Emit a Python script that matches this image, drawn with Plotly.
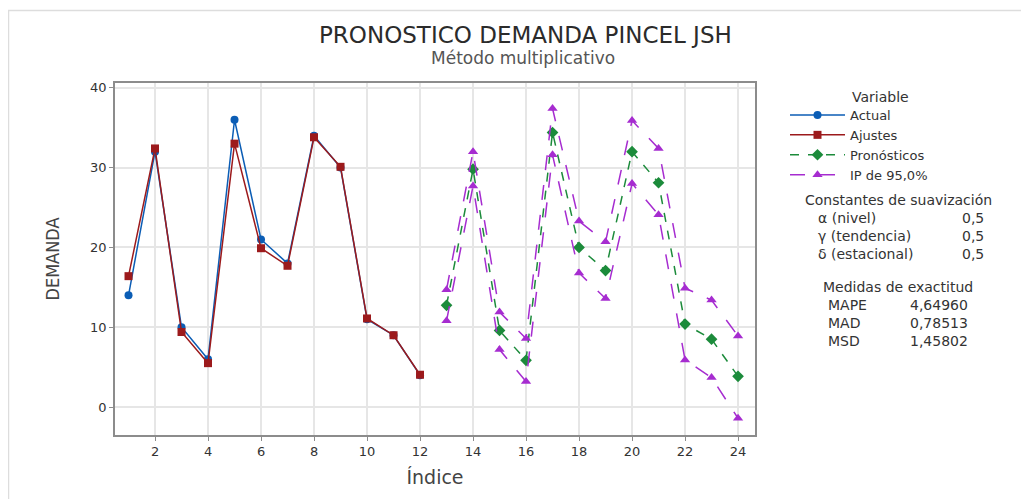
import plotly.graph_objects as go

# ---- data ----
idx_hist = list(range(1, 13))
actual = [14.0, 32.0, 10.0, 6.0, 36.0, 21.0, 18.0, 34.0, 30.0, 11.0, 9.0, 4.0]
ajustes = [16.4, 32.4, 9.4, 5.5, 33.0, 19.9, 17.7, 33.8, 30.1, 11.1, 9.0, 4.05]

idx_fc = list(range(13, 25))
pronosticos = [12.75, 29.8, 9.6, 5.85, 34.4, 20.0, 17.1, 32.0, 28.1, 10.4, 8.5, 3.85]
ip_sup = [14.7, 32.0, 11.9, 8.6, 37.4, 23.3, 20.7, 35.9, 32.4, 14.9, 13.4, 8.9]
ip_inf = [10.8, 27.7, 7.2, 3.2, 31.6, 16.8, 13.6, 28.0, 24.1, 5.9, 3.7, -1.4]

x_ticks = list(range(2, 25, 2))
y_ticks = [0, 10, 20, 30, 40]

constantes = [("α (nivel)", "0,5"), ("γ (tendencia)", "0,5"), ("δ (estacional)", "0,5")]
medidas = [("MAPE", "4,64960"), ("MAD", "0,78513"), ("MSD", "1,45802")]

FONT = "DejaVu Sans"
TXT = "#333333"
C_ACT = "#0B5DB5"
C_FIT = "#9C1A1C"
C_FC = "#1C8B3B"
C_IP = "#A62CD0"

fig = go.Figure()
fig.add_trace(go.Scatter(x=idx_hist, y=actual, name="Actual", mode="lines+markers",
                         line=dict(color=C_ACT, width=1.5),
                         marker=dict(symbol="circle", size=8, color=C_ACT)))
fig.add_trace(go.Scatter(x=idx_hist, y=ajustes, name="Ajustes", mode="lines+markers",
                         line=dict(color=C_FIT, width=1.5),
                         marker=dict(symbol="square", size=8, color=C_FIT)))
fig.add_trace(go.Scatter(x=idx_fc, y=pronosticos, name="Pronósticos", mode="lines+markers",
                         line=dict(color=C_FC, width=1.5, dash="dash"),
                         marker=dict(symbol="diamond", size=9, color=C_FC)))
fig.add_trace(go.Scatter(x=idx_fc, y=ip_sup, name="IP de 95,0%", mode="lines+markers",
                         line=dict(color=C_IP, width=1.5, dash="longdash"),
                         marker=dict(symbol="triangle-up", size=9, color=C_IP),
                         legendgroup="ip"))
fig.add_trace(go.Scatter(x=idx_fc, y=ip_inf, name="IP de 95,0%", mode="lines+markers",
                         line=dict(color=C_IP, width=1.5, dash="longdash"),
                         marker=dict(symbol="triangle-up", size=9, color=C_IP),
                         legendgroup="ip", showlegend=False))

axis_common = dict(showgrid=True, gridcolor="#E6E6E6", gridwidth=1.5,
                   showline=True, linecolor="#8C8C8C", linewidth=1.5, mirror=True,
                   ticks="outside", ticklen=4, tickcolor="#8C8C8C",
                   tickfont=dict(family=FONT, size=13, color=TXT), zeroline=False)

fig.update_xaxes(range=[0.49, 24.64], tickvals=x_ticks,
                 title=dict(text="Índice", font=dict(family=FONT, size=19, color="#444444"), standoff=12),
                 **axis_common)
fig.update_yaxes(range=[-3.5, 40.6], tickvals=y_ticks,
                 title=dict(text="DEMANDA", font=dict(family="DejaVu Sans Condensed, Liberation Sans Narrow, sans-serif",
                                                      size=18, color="#444444"), standoff=26),
                 **axis_common)

# page-pixel positions (the page body adds an 8px offset)
OFF = 8
annotations = [
    dict(text="PRONOSTICO DEMANDA PINCEL JSH", x=525, y=35, font=dict(family=FONT, size=23, color="#2b2b2b")),
    dict(text="Método multiplicativo", x=523, y=58, font=dict(family=FONT, size=17, color="#555555")),
    dict(text="Variable", x=850, y=97, xanchor="left", font=dict(family=FONT, size=14, color=TXT)),
    dict(text="Constantes de suavización", x=898, y=200, font=dict(family=FONT, size=14, color=TXT)),
    dict(text="Medidas de exactitud", x=898, y=287, font=dict(family=FONT, size=14, color=TXT)),
]
for i, (lab, val) in enumerate(constantes):
    yy = 218 + i * 18
    annotations.append(dict(text=lab, x=816, y=yy, xanchor="left", font=dict(family=FONT, size=14, color=TXT)))
    annotations.append(dict(text=val, x=960, y=yy, xanchor="left", font=dict(family=FONT, size=14, color=TXT)))
for i, (lab, val) in enumerate(medidas):
    yy = 305 + i * 18
    annotations.append(dict(text=lab, x=826, y=yy, xanchor="left", font=dict(family=FONT, size=14, color=TXT)))
    annotations.append(dict(text=val, x=970, y=yy, xanchor="right", font=dict(family=FONT, size=14, color=TXT)))

W, H = 1021, 491
L, T = 115 - OFF, 83 - OFF
R = W - (755 - OFF)
B = H - (435 - OFF)
pw, ph = W - L - R, H - T - B


def px(xp):
    return (xp - OFF - L) / pw


def py(yp):
    return 1 - (yp - OFF - T) / ph


anns = []
for a in annotations:
    a = dict(a)
    a["xref"] = "paper"; a["yref"] = "paper"
    a["x"] = px(a["x"])
    a["y"] = py(a["y"])
    a.setdefault("xanchor", "center")
    a["yanchor"] = "middle"
    a["showarrow"] = False
    anns.append(a)

fig.update_layout(
    width=W, height=H,
    margin=dict(l=L, r=R, t=T, b=B),
    paper_bgcolor="white", plot_bgcolor="white",
    showlegend=True,
    legend=dict(x=px(785), y=py(100), xanchor="left", yanchor="top",
                font=dict(family=FONT, size=13, color=TXT),
                bgcolor="rgba(0,0,0,0)", itemwidth=55, tracegroupgap=0),
    annotations=anns,
    shapes=[dict(type="rect", xref="paper", yref="paper",
                 x0=px(8.5), x1=px(1040), y0=py(520), y1=py(10.5),
                 line=dict(color="#DDDDDD", width=1.5), fillcolor="rgba(0,0,0,0)", layer="below")],
)

fig.write_html("out.html")
